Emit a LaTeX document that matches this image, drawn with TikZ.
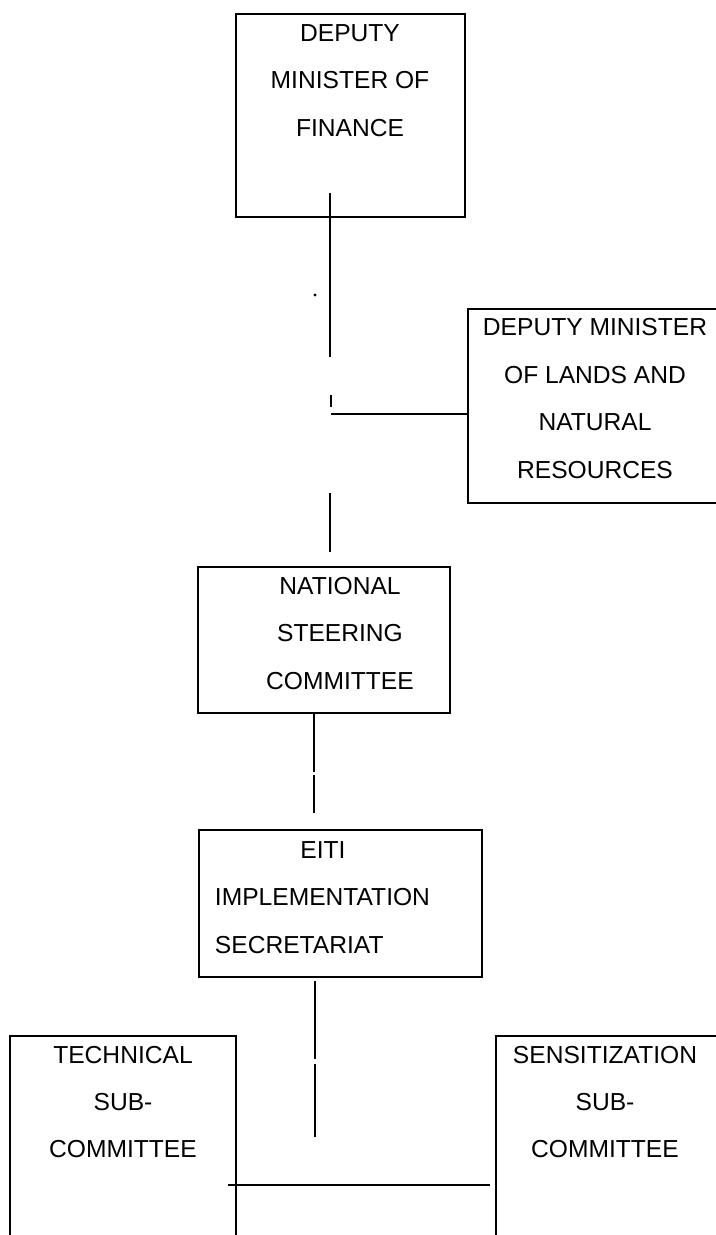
\documentclass[tikz,border=0pt]{standalone}
\usepackage{fontspec}
\setmainfont{Liberation Sans}
\usepackage{tikz}

\begin{document}
\begin{tikzpicture}[x=0.02cm,y=-0.02cm,line width=1.1pt]
  \tikzstyle{box}=[draw,rectangle,inner sep=0pt]
  \tikzstyle{txt}=[inner sep=0pt,align=center,font=\fontsize{14pt}{27pt}\selectfont]

  \useasboundingbox (0,0) rectangle (716,1235);

  \node[box,minimum width=4.58cm,minimum height=4.06cm] (dmf)  at (350.5,115.5) {};
  \node[box,minimum width=5.84cm,minimum height=3.88cm] (dml)  at (614,406)     {};
  \node[box,minimum width=5.04cm,minimum height=2.92cm] (nsc)  at (324,640)     {};
  \node[box,minimum width=5.66cm,minimum height=2.94cm] (eiti) at (340.5,903.5) {};
  \node[box,minimum width=4.52cm,minimum height=5.28cm] (tsc)  at (123,1168)    {};
  \node[box,minimum width=5.28cm,minimum height=5.28cm] (ssc)  at (628,1168)    {};

  \node[txt] (dmf-t)  at (350,80.5)  {DEPUTY\\MINISTER OF\\FINANCE};
  \node[txt] (dml-t)  at (595,398.5) {DEPUTY MINISTER\\OF LANDS AND\\NATURAL\\RESOURCES};
  \node[txt] (nsc-t)  at (340,633.5) {NATIONAL\\STEERING\\COMMITTEE};
  \node[txt,align=left,anchor=west] (eiti-t) at (214,897.5)
       {\makebox[4.32cm]{EITI}\\IMPLEMENTATION\\SECRETARIAT};
  \node[txt] (tsc-t)  at (123,1102)  {TECHNICAL\\SUB-\\COMMITTEE};
  \node[txt] (ssc-t)  at (605,1102)  {SENSITIZATION\\SUB-\\COMMITTEE};

  \coordinate (a1) at (330,193);
  \coordinate (a2) at (330,357);
  \coordinate (a3) at (331,395);
  \coordinate (a4) at (331,407);
  \coordinate (j1) at (331,414);
  \coordinate (a5) at (330,493);
  \coordinate (a6) at (330,552);
  \coordinate (b1) at (314,772);
  \coordinate (b2) at (314,775);
  \coordinate (b3) at (314,813);
  \coordinate (c1) at (315,981);
  \coordinate (c2) at (315,1059);
  \coordinate (c3) at (315,1064);
  \coordinate (c4) at (315,1137);
  \coordinate (d1) at (228,1185);
  \coordinate (d2) at (490,1185);

  \draw (a1) -- (a2);
  \fill (315,295) circle (0.9pt);
  \draw (a3) -- (a4);
  \draw (j1) -- (j1 -| dml.west);
  \draw (a5) -- (a6);
  \draw (b1 |- nsc.south) -- (b1);
  \draw (b2) -- (b3);
  \draw (c1) -- (c2);
  \draw (c3) -- (c4);
  \draw (d1) -- (d2);
\end{tikzpicture}
\end{document}
